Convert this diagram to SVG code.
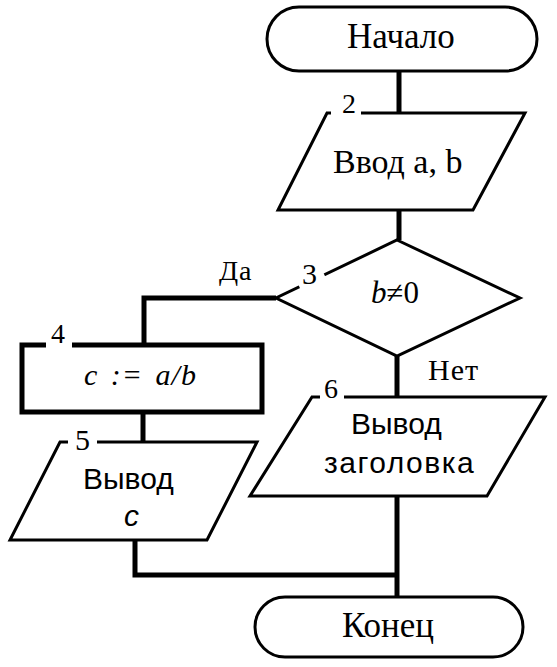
<svg xmlns="http://www.w3.org/2000/svg" width="557" height="667" viewBox="0 0 557 667">
<rect width="557" height="667" fill="#fff"/>
<g id="connectors" fill="none" stroke="#000" stroke-width="5">
<line x1="399" y1="71" x2="399" y2="113"/>
<line x1="399" y1="210" x2="399" y2="240"/>
<polyline points="276,298 144,298 144,345"/>
<line x1="143" y1="412" x2="143" y2="442"/>
<line x1="397" y1="356" x2="397" y2="397"/>
<line x1="397" y1="496" x2="397" y2="597"/>
<polyline points="135,540 135,575 397,575"/>
</g>
<g id="n1">
<rect x="267" y="7" width="270" height="64" rx="32" ry="32" fill="#fff" stroke="#000" stroke-width="3"/>
<text x="347" y="48" font-size="35" font-family="Liberation Serif">Начало</text>
</g>
<g id="n2">
<polygon points="327,113 525,113 473,210 278,210" fill="#fff" stroke="#000" stroke-width="3"/>
<line x1="331" y1="113" x2="361" y2="113" stroke="#fff" stroke-width="7"/>
<text x="342" y="113" font-size="28" font-family="Liberation Serif">2</text>
<text x="333" y="173" font-size="34" font-family="Liberation Serif">Ввод a, b</text>
</g>
<g id="n3">
<polygon points="397,240 520,298 397,356 276,298" fill="#fff" stroke="#000" stroke-width="3"/>
<line x1="299" y1="286" x2="324" y2="274" stroke="#fff" stroke-width="7"/>
<text x="302" y="284" font-size="30" font-family="Liberation Serif">3</text>
<text x="371" y="303" font-size="31" font-family="Liberation Serif"><tspan font-style="italic">b</tspan>≠0</text>
<text x="219" y="280" font-size="28" font-family="Liberation Serif" letter-spacing="1">Да</text>
<text x="428" y="380" font-size="30" font-family="Liberation Serif" letter-spacing="1">Нет</text>
</g>
<g id="n4">
<rect x="22" y="345" width="240" height="67" fill="#fff" stroke="#000" stroke-width="5"/>
<line x1="46" y1="345" x2="72" y2="345" stroke="#fff" stroke-width="7"/>
<text x="51" y="343" font-size="28" font-family="Liberation Serif">4</text>
<text x="84" y="385" font-size="30" font-family="Liberation Serif" font-style="italic" letter-spacing="1" word-spacing="4">c := a/b</text>
</g>
<g id="n5">
<polygon points="60,442 257,442 207,540 10,540" fill="#fff" stroke="#000" stroke-width="3"/>
<line x1="68" y1="442" x2="97" y2="442" stroke="#fff" stroke-width="7"/>
<text x="75" y="450" font-size="30" font-family="Liberation Serif">5</text>
<text x="83" y="489" font-size="30" font-family="Liberation Sans">Вывод</text>
<text x="124" y="526" font-size="30" font-family="Liberation Sans" font-style="italic">c</text>
</g>
<g id="n6">
<polygon points="312,397 545,397 487,496 250,496" fill="#fff" stroke="#000" stroke-width="3"/>
<line x1="320" y1="397" x2="344" y2="397" stroke="#fff" stroke-width="7"/>
<text x="324" y="398" font-size="28" font-family="Liberation Serif">6</text>
<text x="351" y="434" font-size="30" font-family="Liberation Sans">Вывод</text>
<text x="324" y="473" font-size="30" font-family="Liberation Sans" letter-spacing="1.5">заголовка</text>
</g>
<g id="n7">
<rect x="255" y="597" width="268" height="60" rx="30" ry="30" fill="#fff" stroke="#000" stroke-width="3"/>
<text x="342" y="637" font-size="35" font-family="Liberation Serif">Конец</text>
</g>
</svg>
